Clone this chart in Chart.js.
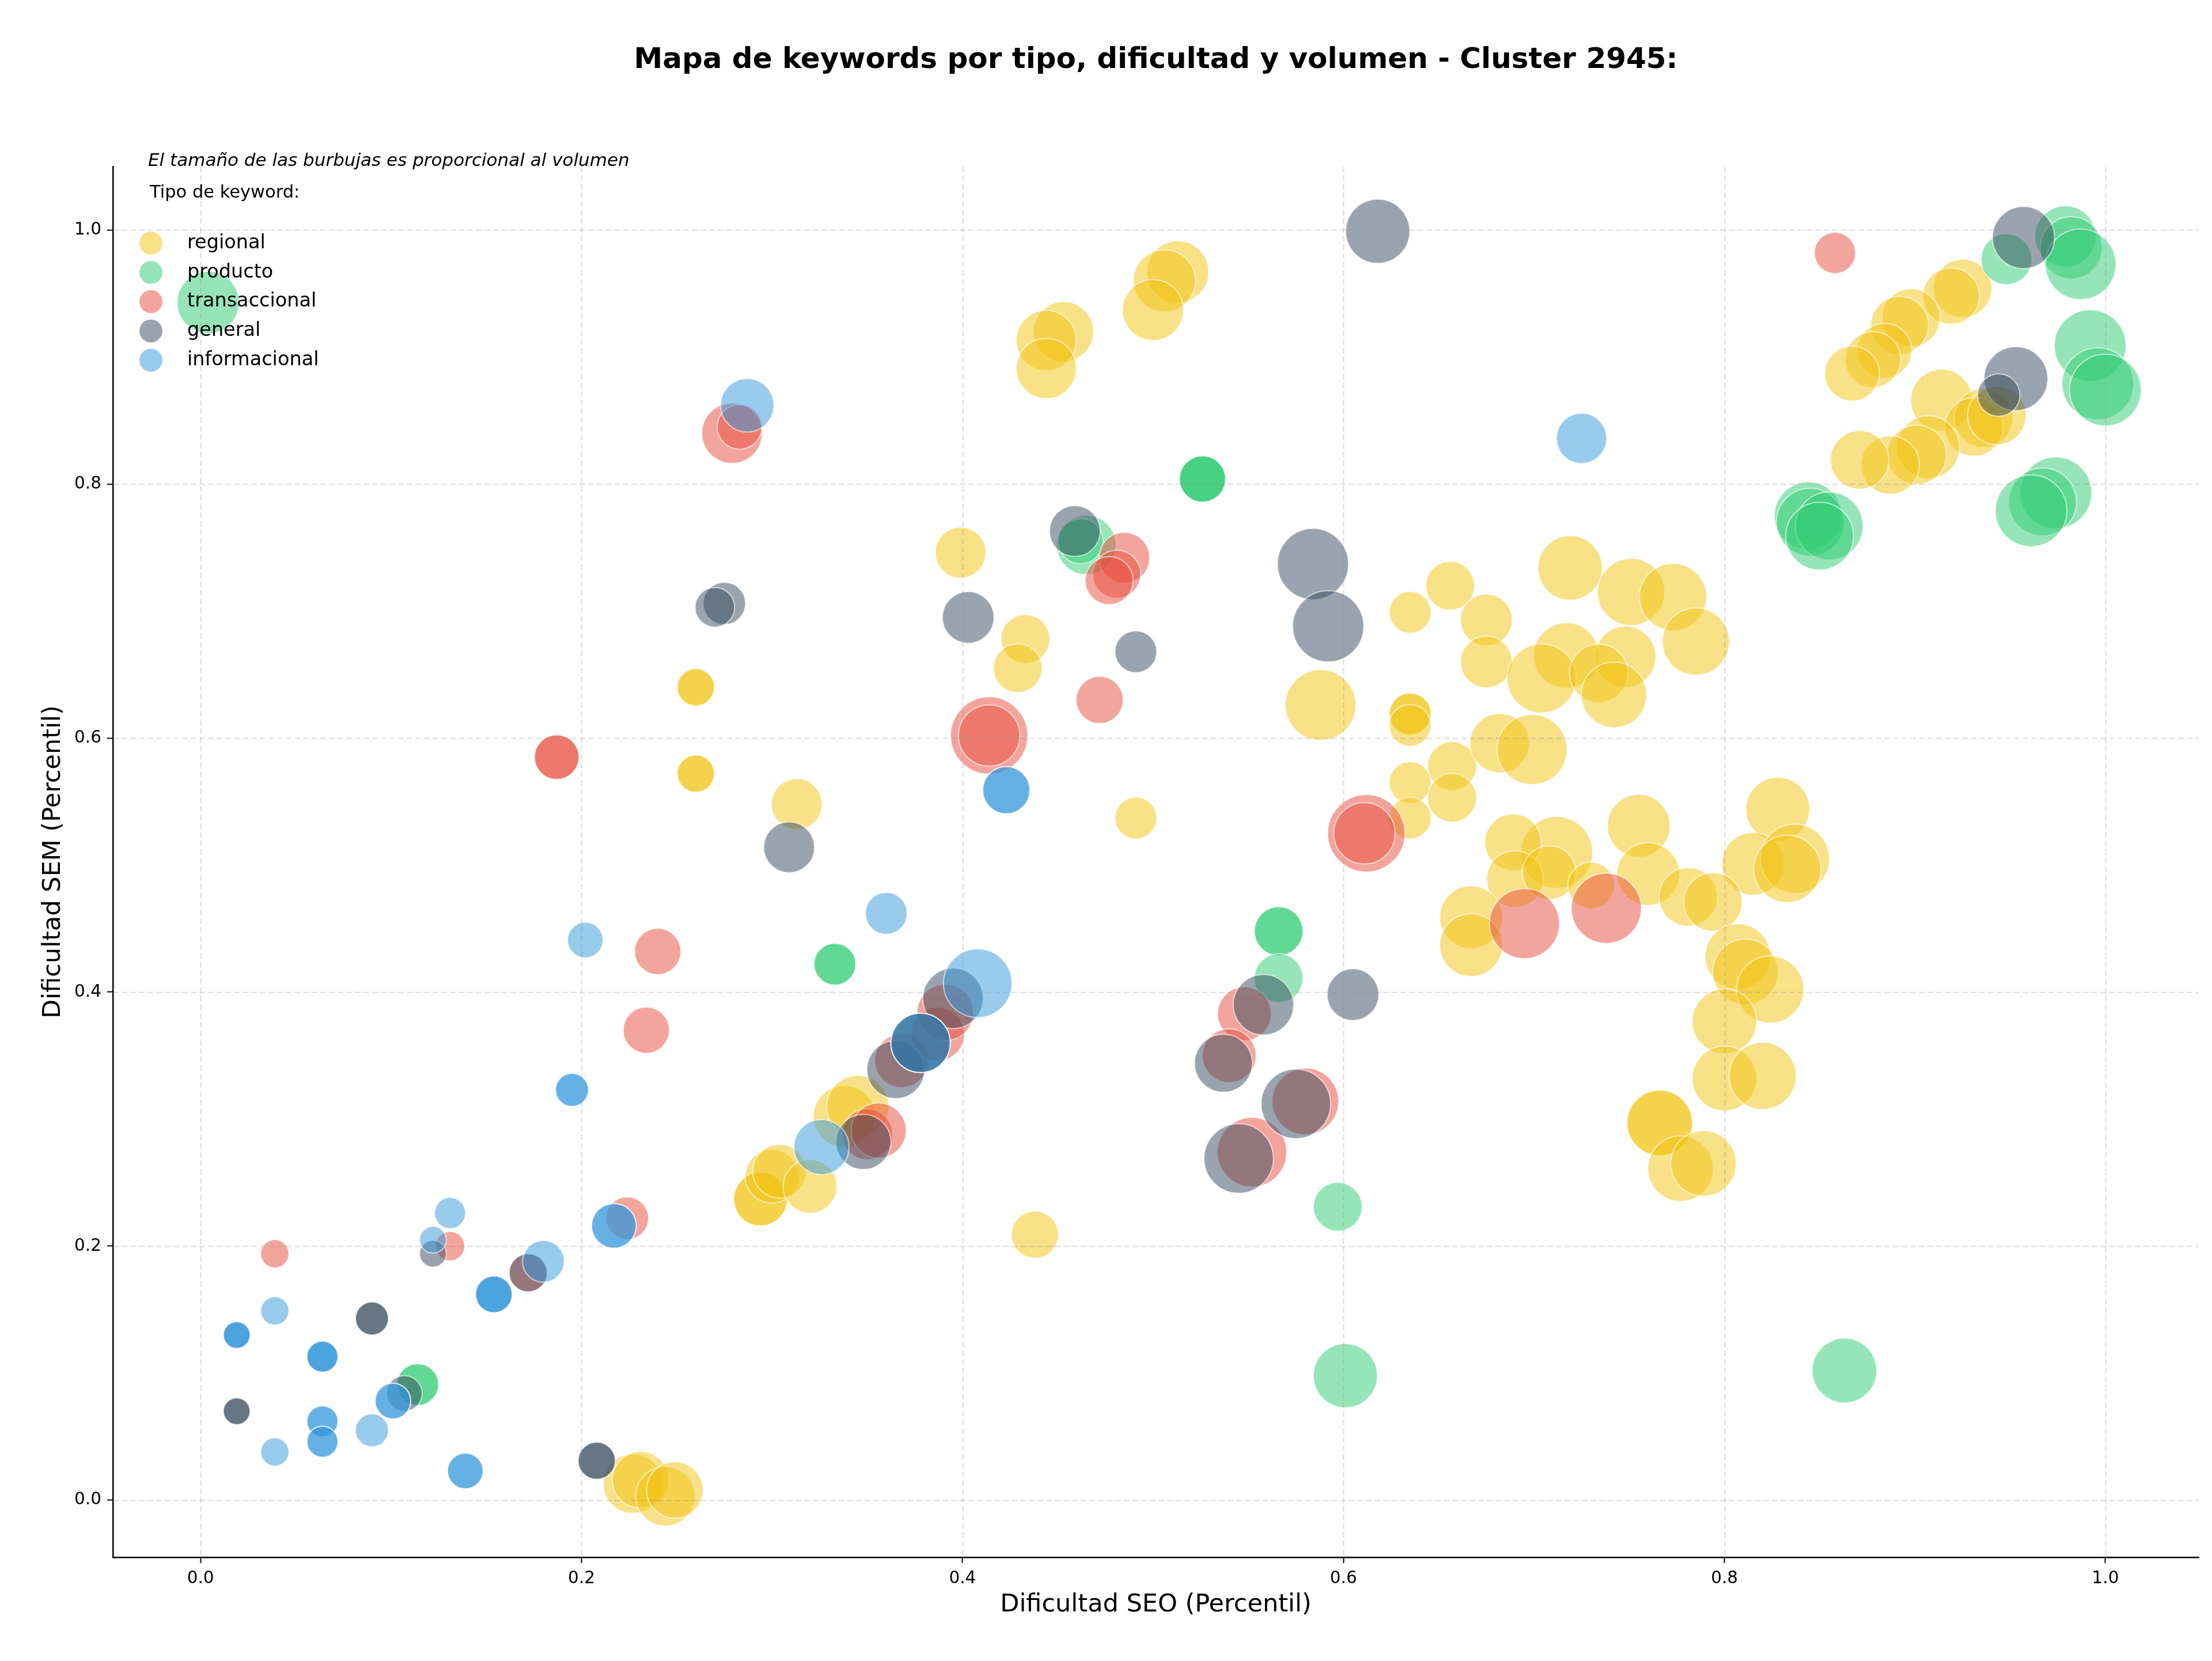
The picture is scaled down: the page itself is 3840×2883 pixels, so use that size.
<!DOCTYPE html>
<html>
<head>
<meta charset="utf-8">
<script src="https://cdn.jsdelivr.net/npm/chart.js@4.4.1/dist/chart.umd.min.js"></script>
<style>
  html, body { margin: 0; padding: 0; background: #ffffff; }
  canvas { display: block; }
</style>
</head>
<body>
<canvas id="c" width="3840" height="2883"></canvas>
<script>
// ---------------- DATA ----------------
const chartTitle = 'Mapa de keywords por tipo, dificultad y volumen - Cluster 2945:';
const noteText = 'El tamaño de las burbujas es proporcional al volumen';
const legendTitle = 'Tipo de keyword:';
const xAxisTitle = 'Dificultad SEO (Percentil)';
const yAxisTitle = 'Dificultad SEM (Percentil)';
const xTicks = [0.0, 0.2, 0.4, 0.6, 0.8, 1.0];
const yTicks = [0.0, 0.2, 0.4, 0.6, 0.8, 1.0];
const categories = ['regional', 'producto', 'transaccional', 'general', 'informacional'];

// regional
const regionalSEO = [0.453,0.444,0.444,0.513,0.506,0.500,0.925,0.919,0.898,0.892,0.884,0.878,0.867,0.914,0.936,0.931,0.943,0.907,0.901,0.887,0.871,
  0.260,0.260,0.260,0.260,0.313,0.399,0.433,0.429,0.491,0.588,0.635,0.635,0.635,0.635,0.656,0.675,0.675,0.657,0.635,0.657,0.635,0.682,0.699,
  0.719,0.751,0.773,0.785,0.717,0.748,0.704,0.734,0.742,0.828,0.815,0.837,0.833,0.755,0.760,0.712,0.689,0.690,0.708,0.730,0.781,0.794,
  0.807,0.811,0.824,0.800,0.800,0.820,0.667,0.667,0.766,0.766,0.777,0.789,0.438,
  0.294,0.294,0.300,0.304,0.320,0.338,0.345,0.227,0.231,0.244,0.249];
const regionalSEM = [0.920,0.913,0.891,0.967,0.960,0.937,0.954,0.948,0.931,0.925,0.905,0.898,0.887,0.866,0.852,0.845,0.854,0.829,0.823,0.815,0.819,
  0.640,0.640,0.572,0.572,0.548,0.746,0.678,0.655,0.537,0.626,0.619,0.619,0.610,0.699,0.720,0.693,0.660,0.578,0.565,0.553,0.537,0.596,0.591,
  0.734,0.715,0.711,0.676,0.665,0.664,0.647,0.651,0.634,0.544,0.501,0.505,0.497,0.531,0.493,0.510,0.518,0.489,0.494,0.484,0.475,0.471,
  0.428,0.416,0.402,0.377,0.332,0.334,0.459,0.437,0.297,0.297,0.261,0.265,0.209,
  0.237,0.237,0.255,0.259,0.247,0.302,0.310,0.013,0.016,0.003,0.008];
const regionalVol = [4540,4540,4540,4840,4840,4670,4280,4000,4200,4200,3760,3880,3760,4800,4280,4280,4280,4930,4410,4280,4280,
  1740,1740,1740,1740,3240,3240,2990,2990,2190,6250,2190,2190,2190,2190,2990,3350,3350,2990,2190,2990,2190,4410,6150,
  5200,5660,5660,5660,5380,4670,6000,4280,5380,5110,4930,6000,5660,4930,4930,6450,4000,4000,3610,2720,4280,4280,
  5380,5380,5660,5240,5240,5660,4930,4930,5380,5380,5380,5380,2790,
  3610,3610,3610,3610,3610,4840,4840,4410,4000,4410,4000];

// producto
const productoSEO = [0.004,0.979,0.982,0.987,0.948,0.992,0.996,1.000,0.974,0.967,0.961,0.844,0.845,0.855,0.850,
  0.526,0.526,0.526,0.465,0.462,0.566,0.566,0.566,0.333,0.333,0.597,0.601,0.863,0.114,0.114];
const productoSEM = [0.943,0.995,0.986,0.973,0.977,0.909,0.879,0.874,0.793,0.786,0.779,0.775,0.770,0.767,0.759,
  0.804,0.804,0.804,0.752,0.755,0.448,0.448,0.411,0.422,0.422,0.231,0.098,0.102,0.091,0.091];
const productoVol = [4840,4670,4840,6250,3240,6450,6450,6450,6450,5760,6450,5760,5760,5760,5760,
  2690,2690,2690,4410,2560,2990,2990,2990,2190,2190,2990,5150,5240,2190,2190];

// transaccional
const transaccionalSEO = [0.858,0.472,0.414,0.414,0.612,0.611,0.187,0.187,0.240,0.234,0.224,0.131,0.039,0.172,0.695,0.738,
  0.350,0.356,0.368,0.387,0.391,0.548,0.540,0.552,0.580,0.485,0.481,0.477,0.279,0.283];
const transaccionalSEM = [0.982,0.630,0.602,0.602,0.525,0.525,0.585,0.585,0.432,0.370,0.222,0.200,0.194,0.179,0.454,0.466,
  0.288,0.291,0.346,0.367,0.384,0.383,0.350,0.274,0.314,0.742,0.729,0.724,0.840,0.845];
const transaccionalVol = [2130,2790,7500,4710,7500,4710,2500,2500,2690,2690,2280,1080,1000,1820,6150,6150,
  3240,3800,3610,3610,4000,3610,3610,6050,5570,3240,2890,2890,4580,2500];

// general
const generalSEO = [0.618,0.957,0.953,0.944,0.459,0.584,0.592,0.403,0.491,0.275,0.270,0.309,0.605,0.558,0.537,0.545,0.575,
  0.348,0.365,0.395,0.378,0.378,0.172,0.122,0.107,0.090,0.090,0.019,0.019,0.208,0.208];
const generalSEM = [0.999,0.994,0.883,0.870,0.763,0.737,0.688,0.695,0.668,0.706,0.703,0.514,0.398,0.390,0.344,0.269,0.312,
  0.282,0.339,0.395,0.360,0.360,0.179,0.194,0.084,0.143,0.143,0.070,0.070,0.031,0.031];
const generalVol = [5150,4840,5110,2250,3240,6350,6350,3350,2190,2250,1960,3240,3350,4580,4200,6050,6050,
  3800,4200,4580,4410,4410,1820,900,1590,1370,1370,900,900,1740,1740];

// informacional
const informacionalSEO = [0.287,0.725,0.423,0.423,0.360,0.408,0.378,0.326,0.202,0.195,0.195,0.217,0.217,0.180,0.154,0.154,0.154,
  0.131,0.122,0.039,0.019,0.019,0.019,0.064,0.064,0.064,0.064,0.064,0.064,0.064,0.039,0.090,0.101,0.101,0.139,0.139];
const informacionalSEM = [0.862,0.836,0.559,0.559,0.462,0.407,0.360,0.278,0.441,0.323,0.323,0.216,0.216,0.188,0.162,0.162,0.162,
  0.226,0.205,0.149,0.130,0.130,0.130,0.113,0.113,0.113,0.062,0.062,0.046,0.046,0.038,0.055,0.078,0.078,0.023,0.023];
const informacionalVol = [3570,3170,2790,2790,2190,5900,4410,3800,1590,1370,1370,2500,2500,2190,1690,1690,1690,
  1210,900,1000,900,900,900,1210,1210,1210,1210,1210,1210,1210,1000,1370,1590,1590,1590,1590];

const seriesColors = ['#F1C40F', '#2ECC71', '#E74C3C', '#34495E', '#3498DB'];

// ---------------- CHART ----------------
const K = 0.7745; // px of radius per sqrt(volume)
function rgba(hex, a) {
  const n = parseInt(hex.slice(1), 16);
  return `rgba(${(n >> 16) & 255},${(n >> 8) & 255},${n & 255},${a})`;
}
function build(xs, ys, vols) {
  return xs.map((x, i) => ({ x: x, y: ys[i], r: Math.sqrt(vols[i]) * K }));
}
const seriesData = [
  build(regionalSEO, regionalSEM, regionalVol),
  build(productoSEO, productoSEM, productoVol),
  build(transaccionalSEO, transaccionalSEM, transaccionalVol),
  build(generalSEO, generalSEM, generalVol),
  build(informacionalSEO, informacionalSEM, informacionalVol)
];

Chart.defaults.font.family = '"DejaVu Sans", sans-serif';
Chart.defaults.color = '#000';

const gridOnTop = {
  id: 'gridOnTop',
  afterDatasetsDraw(chart) {
    const { ctx, chartArea: a, scales } = chart;
    ctx.save();
    ctx.beginPath();
    ctx.rect(a.left, a.top, a.right - a.left, a.bottom - a.top);
    ctx.clip();
    ctx.strokeStyle = 'rgba(150,150,150,0.33)';
    ctx.lineWidth = 2;
    ctx.setLineDash([10, 5]);
    xTicks.forEach(v => {
      const p = Math.round(scales.x.getPixelForValue(v)) + 0.5;
      ctx.beginPath(); ctx.moveTo(p, a.top); ctx.lineTo(p, a.bottom); ctx.stroke();
    });
    yTicks.forEach(v => {
      const p = Math.round(scales.y.getPixelForValue(v)) + 0.5;
      ctx.beginPath(); ctx.moveTo(a.left, p); ctx.lineTo(a.right, p); ctx.stroke();
    });
    ctx.restore();
  }
};

const customLegend = {
  id: 'customLegend',
  afterDraw(chart) {
    const { ctx, chartArea: a } = chart;
    const x0 = a.left;
    ctx.save();
    ctx.textAlign = 'left';
    ctx.textBaseline = 'middle';
    ctx.fillStyle = '#000';
    ctx.font = 'italic 31px "DejaVu Sans"';
    ctx.fillText(noteText, x0 + 61, a.top - 9);
    ctx.font = '30.5px "DejaVu Sans"';
    ctx.fillText(legendTitle, x0 + 64, a.top + 46);
    categories.forEach((c, i) => {
      const y = a.top + 133 + i * 50.8;
      ctx.beginPath();
      ctx.arc(x0 + 66, y, 20, 0, Math.PI * 2);
      ctx.fillStyle = rgba(seriesColors[i], 0.5);
      ctx.fill();
      ctx.fillStyle = '#000';
      ctx.font = '33.5px "DejaVu Sans"';
      ctx.fillText(c, x0 + 129, y);
    });
    ctx.restore();
  }
};

new Chart(document.getElementById('c'), {
  type: 'bubble',
  data: {
    datasets: categories.map((c, i) => ({
      label: c,
      data: seriesData[i],
      backgroundColor: rgba(seriesColors[i], 0.5),
      borderColor: 'rgba(255,255,255,0.6)',
      borderWidth: 2,
      clip: 0,
      order: categories.length - i
    }))
  },
  options: {
    responsive: false,
    animation: false,
    devicePixelRatio: 1,
    events: [],
    layout: { autoPadding: false, padding: { left: 0, right: 23, top: 0, bottom: 0 } },
    plugins: {
      legend: { display: false },
      tooltip: { enabled: false },
      title: {
        display: true,
        text: chartTitle,
        fullSize: false,
        color: '#000',
        font: { size: 50, weight: 'bold' },
        padding: { top: 75, bottom: 154 }
      }
    },
    scales: {
      x: {
        type: 'linear',
        position: 'bottom',
        min: -0.046,
        max: 1.049,
        afterBuildTicks: s => { s.ticks = xTicks.map(v => ({ value: v })); },
        afterFit: s => { s.height = 180; s.paddingLeft = 0; s.paddingRight = 0; },
        ticks: { font: { size: 29.5 }, color: '#000', padding: 10, maxRotation: 0, autoSkip: false,
                 callback: v => Number(v).toFixed(1) },
        grid: { drawOnChartArea: false, drawTicks: true, tickLength: 10, tickColor: '#000', tickWidth: 2 },
        border: { display: true, color: '#000', width: 2.5 },
        title: { display: true, text: xAxisTitle, color: '#000', font: { size: 43 }, padding: { top: 0, bottom: 71 } }
      },
      y: {
        type: 'linear',
        position: 'left',
        min: -0.045,
        max: 1.05,
        afterBuildTicks: s => { s.ticks = yTicks.map(v => ({ value: v })); },
        afterFit: s => { s.width = 196; s.paddingTop = 0; s.paddingBottom = 0; },
        ticks: { font: { size: 29.5 }, color: '#000', padding: 10, autoSkip: false,
                 callback: v => Number(v).toFixed(1) },
        grid: { drawOnChartArea: false, drawTicks: true, tickLength: 10, tickColor: '#000', tickWidth: 2 },
        border: { display: true, color: '#000', width: 2.5 },
        title: { display: true, text: yAxisTitle, color: '#000', font: { size: 43 }, padding: { top: 67, bottom: 0 } }
      }
    }
  },
  plugins: [gridOnTop, customLegend]
});
</script>
</body>
</html>
